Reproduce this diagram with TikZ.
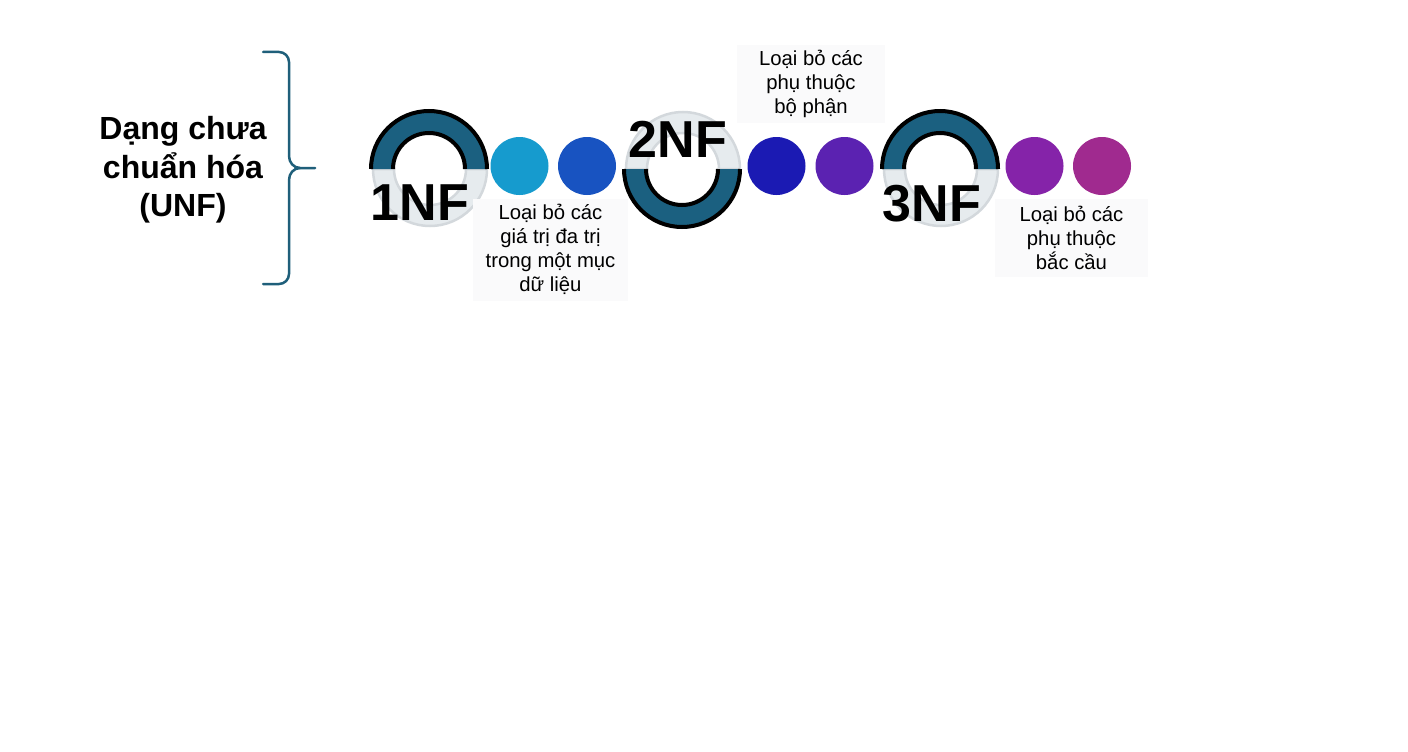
\documentclass[tikz,border=0pt]{standalone}
\usepackage{fontspec}
\setmainfont{Liberation Sans}
\usetikzlibrary{positioning}
\definecolor{ringteal}{HTML}{1B6080}
\definecolor{ringlight}{HTML}{E6EBEE}
\definecolor{ringedge}{HTML}{D3D8DC}
\definecolor{bracecol}{HTML}{1F5F7A}
\definecolor{labelbg}{HTML}{FAFAFB}
\definecolor{dotA}{HTML}{169BCE}
\definecolor{dotB}{HTML}{1853C1}
\definecolor{dotC}{HTML}{1B1AB3}
\definecolor{dotD}{HTML}{5B22B1}
\definecolor{dotE}{HTML}{8523A9}
\definecolor{dotF}{HTML}{A02A8F}
\tikzset{
	dot/.style={circle,minimum size=58pt,inner sep=0pt},
	nflabel/.style={font=\fontsize{52}{52}\selectfont\bfseries,inner sep=0pt},
	desc/.style={fill=labelbg,align=center,inner sep=0pt,font=\fontsize{20.3}{23.8}\selectfont},
	title/.style={align=center,inner sep=0pt,font=\fontsize{32}{38.5}\selectfont\bfseries}
}

\begin{document}
\begin{tikzpicture}[x=1pt,y=1pt]
			\useasboundingbox[fill=white] (0,0) rectangle (1408,-752);
			% brace and title
			\node[title] (unf) at (183,-170) {Dạng chưa\\chuẩn hóa\\(UNF)};
			\coordinate (tip) at (315,-168);
			\draw[bracecol,line width=2.5pt,line cap=round,line join=round] (263,-52) -- (279,-52) to[out=0,in=90] (289,-62) -- (289,-156) to[out=-90,in=180] (300,-168) -- (tip);
			\draw[bracecol,line width=2.5pt,line cap=round,line join=round] (263,-284) -- (279,-284) to[out=0,in=-90] (289,-274) -- (289,-180) to[out=90,in=180] (300,-168);
			% rings
			\foreach \name/\x/\up/\dn in {one/429/180/-180, two/682/-180/180, three/940/180/-180}{
				\coordinate (\name) at (\x,-169);
				\filldraw[ringlight,draw=ringedge,line width=2.5pt] (\name) ++(58,0) arc[start angle=0,end angle=\dn,radius=57] -- ++(21,0) arc[start angle=\dn,end angle=0,radius=36] -- cycle;
				\fill[ringteal] (\name) ++(58,0) arc[start angle=0,end angle=\up,radius=58] -- ++(22,0) arc[start angle=\up,end angle=0,radius=36] -- cycle;
				\draw[black,line width=4pt] (\name) ++(58,0) arc[start angle=0,end angle=\up,radius=58];
				\draw[black,line width=4pt] (\name) ++(36,0) arc[start angle=0,end angle=\up,radius=36];
			}
			\node[nflabel] (nf1) at (420,-203) {1NF};
			\node[nflabel] (nf2) at (678,-139) {2NF};
			\node[nflabel] (nf3) at (932,-204) {3NF};
			% dots
			\foreach \name/\x/\col in {da/519.5/dotA, db/587/dotB, dc/776.5/dotC, dd/844.5/dotD, de/1034.5/dotE, df/1102/dotF}
			\node[dot,fill=\col] (\name) at (\x,-166) {};
			% descriptions
			\node[desc,minimum width=155pt,minimum height=102pt] (d1) at (550.5,-249.5) {Loại bỏ các\\giá trị đa trị\\trong một mục\\dữ liệu};
			\node[desc,minimum width=148pt,minimum height=78pt] (d2) at (811,-84) {Loại bỏ các\\phụ thuộc\\bộ phận};
			\node[desc,minimum width=153pt,minimum height=78pt] (d3) at (1071.5,-238) {Loại bỏ các\\phụ thuộc\\bắc cầu};
		\end{tikzpicture}
\end{document}
